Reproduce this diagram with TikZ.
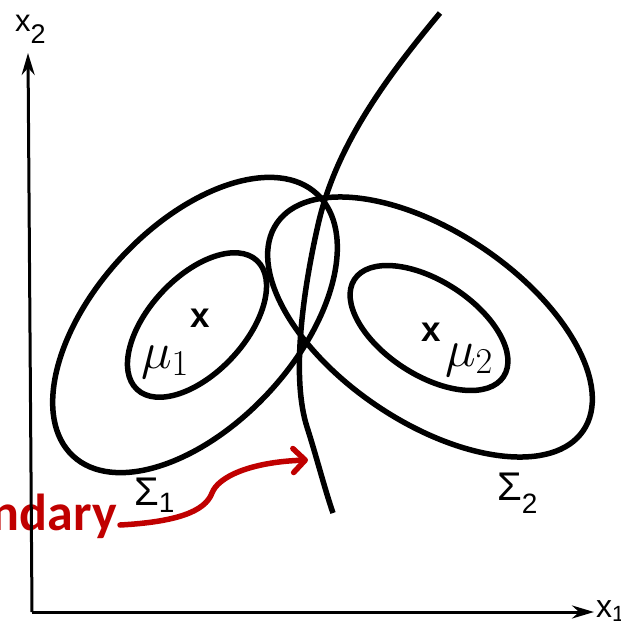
\RequirePackage{fix-cm}
\documentclass[tikz,border=0pt]{standalone}
\usepackage{fontspec}
\newfontfamily\scanfont{Liberation Sans}
\newfontfamily\redfont{Carlito}
\usetikzlibrary{arrows.meta}
\definecolor{redC}{RGB}{192,0,0}
\begin{document}
\begin{tikzpicture}[x=1pt,y=-1pt,
  curve/.style={line width=5.5pt},
  axis/.style={line width=3pt,-{Stealth[length=22pt,width=13pt]}},
  redarrow/.style={draw=redC,line width=5.5pt,line cap=round,-{Straight Barb[length=12pt,width=24pt,line cap=round,line join=round]}},
  mulabel/.style={fill=white,inner sep=2pt,font=\fontsize{52}{52}\selectfont},
  xmark/.style={inner sep=0pt,font=\scanfont\bfseries\fontsize{35}{35}\selectfont}]
\useasboundingbox (0,0) rectangle (621,625);
\fill[white] (0,0) rectangle (621,625);
% red annotation text (under the axis)
\node[anchor=base east,inner sep=0pt,text=redC,font=\redfont\bfseries\fontsize{52}{52}\selectfont] (lbl) at (117,530) {ndary};
% axes
\coordinate (O) at (32,612);
\coordinate (ytip) at (28,53);
\coordinate (xtip) at (594,612);
\draw[axis] (O) -- (ytip);
\draw[axis] (O) -- (xtip);
\node[anchor=base west,inner sep=0pt,font=\scanfont] (x2) at (15,31)
  {{\fontsize{31}{31}\selectfont x}{\fontsize{27}{27}\selectfont\raisebox{-12pt}{2}}};
\node[anchor=base west,inner sep=0pt,font=\scanfont] (x1) at (596,617)
  {{\fontsize{32}{32}\selectfont x}{\fontsize{22}{22}\selectfont\raisebox{-4pt}{1}}};
% class 1 contours
\draw[curve,rotate around={47:(195,325)}] (195,325) ellipse [x radius=179,y radius=100];
\draw[curve,rotate around={47:(197,325)}] (197,325) ellipse [x radius=88,y radius=48];
% class 2 contours
\draw[curve,rotate around={-34:(430,327)}] (430,327) ellipse [x radius=185,y radius=95];
\draw[curve,rotate around={-33:(429,328)}] (429,328) ellipse [x radius=89,y radius=47];
% decision boundary
\coordinate (b0) at (440,13);
\coordinate (b1) at (318,225);
\coordinate (b2) at (307,427);
\coordinate (b3) at (333,513);
\draw[curve] (b0) .. controls (380,85) and (335,150) .. (b1)
  .. controls (301,300) and (292,380) .. (b2)
  .. controls (316,455) and (325,490) .. (b3);
% means
\node[xmark] (m1) at (200,318) {x};
\node[xmark] (m2) at (431,332) {x};
\node[mulabel] (mu1) at (165,362) {$\mu_1$};
\node[mulabel] (mu2) at (469,360) {$\mu_2$};
% covariances
\node[anchor=base west,inner sep=0pt,font=\scanfont] (s1) at (134,505)
  {{\fontsize{40}{40}\selectfont Σ}{\fontsize{28}{28}\selectfont\raisebox{-7pt}{1}}};
\node[anchor=base west,inner sep=0pt,font=\scanfont] (s2) at (497,500)
  {{\fontsize{40}{40}\selectfont Σ}{\fontsize{28}{28}\selectfont\raisebox{-13pt}{2}}};
% red arrow
\coordinate (rs) at (120,525);
\coordinate (rmid) at (212,493);
\coordinate (re) at (308,460);
\draw[redarrow] (rs) .. controls (175,522) and (205,512) .. (rmid) .. controls (218,477) and (250,462) .. (re);
\end{tikzpicture}
\end{document}
